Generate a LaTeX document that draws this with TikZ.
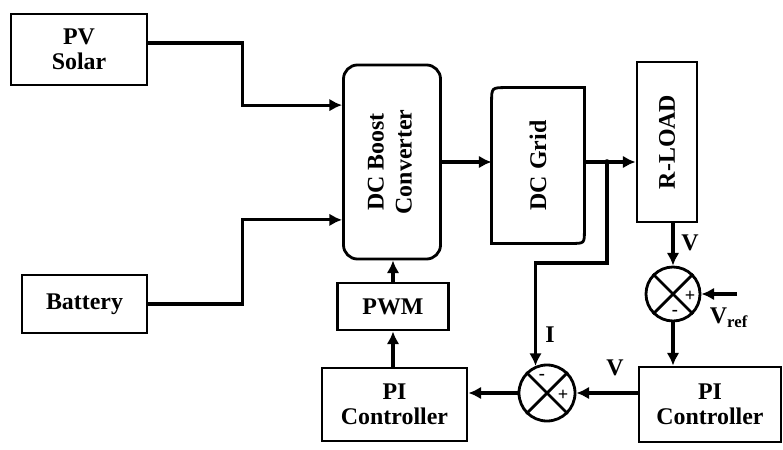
\documentclass[tikz,border=0pt]{standalone}
\usepackage{fontspec}
\usepackage{graphicx}
\setmainfont{Liberation Serif}
\usetikzlibrary{arrows.meta, calc, positioning}
\tikzset{
  block/.style={draw, line width=2pt, rectangle, inner sep=0pt, align=center, font=\bfseries\fontsize{17}{20}\selectfont},
  roundblock/.style={block, rounded corners=10pt},
  sumnode/.style={draw, circle, line width=2pt, inner sep=0pt, minimum size=1.35cm},
  flow/.style={line width=2.2pt, -{Latex[length=9pt,width=9pt]}},
  wire/.style={line width=2pt},
  sign/.style={font=\bfseries\fontsize{13}{13}\selectfont, inner sep=0pt},
  tag/.style={font=\bfseries\fontsize{17}{20}\selectfont, inner sep=1pt}
}

\begin{document}
\begin{tikzpicture}[x=0.025cm, y=-0.025cm]
\useasboundingbox (0,0) rectangle (783,449);

% Sources
\node[block, minimum width=3.4cm, minimum height=1.775cm] (pv) at (79,49.5) {PV\\[-2pt]Solar};
\node[block, minimum width=3.125cm, minimum height=1.45cm] (bat) at (84.5,304) {Battery};

% Converter, grid and load
\node[roundblock, minimum width=2.425cm, minimum height=4.85cm] (boost) at (392,162)
  {\rotatebox{90}{\begin{tabular}{@{}c@{}}DC Boost\\Converter\end{tabular}}};
\node[block, draw=none, minimum width=2.25cm, minimum height=3.825cm] (grid) at (538,165.5)
  {\rotatebox{90}{DC Grid}};
\draw[wire] (grid.south west) -- ($(grid.north west)+(0,15)$)
  .. controls (grid.north west) .. ($(grid.north west)+(15,0)$) -- (grid.north east)
  -- ($(grid.south east)+(0,-13)$) .. controls (grid.south east) .. ($(grid.south east)+(-13,0)$) -- cycle;
\node[block, minimum width=1.5cm, minimum height=4cm] (load) at (667,142) {\rotatebox{90}{R-LOAD}};

% Control loop
\node[block, minimum width=2.775cm, minimum height=1.175cm] (pwm) at (393,306.5) {PWM};
\node[block, minimum width=3.625cm, minimum height=1.825cm] (piL) at (394.5,404.5) {PI\\[-2pt]Controller};
\node[block, minimum width=3.55cm, minimum height=1.875cm] (piR) at (710,404.5) {PI\\[-2pt]Controller};

% Summing junctions
\node[sumnode] (sum1) at (673,294) {};
\draw[wire] (sum1.north west) -- (sum1.south east) (sum1.north east) -- (sum1.south west);
\node[sign] (s1p) at ($(sum1)+(17,2)$) {+};
\node[sign] (s1m) at ($(sum1)+(2,19)$) {-};
\node[sumnode, minimum size=1.4cm] (sum2) at (547,393) {};
\draw[wire] (sum2.north west) -- (sum2.south east) (sum2.north east) -- (sum2.south west);
\node[sign] (s2m) at ($(sum2)+(-5,-16)$) {-};
\node[sign] (s2p) at ($(sum2)+(16,2)$) {+};

% Signal labels
\node[tag] (lv1) at (690,243) {V};
\node[tag] (lvref) at (729,318) {V\textsubscript{ref}};
\node[tag] (li) at (550,335) {I};
\node[tag] (lv2) at (615,368) {V};

% Connections
\coordinate (inpv) at ($(boost.north west)!0.211!(boost.south west)$);
\coordinate (inbat) at ($(boost.north west)!0.794!(boost.south west)$);
\coordinate (jn) at (607,162);
\coordinate (vr) at (737,294);
\draw[flow] ([yshift=4.6pt]pv.east) -- ++(94,0) |- (inpv);
\draw[flow] (bat.east) -- ++(94,0) |- (inbat);
\draw[flow] (boost.east) -- (boost.east -| grid.west);
\draw[flow] (boost.east -| grid.east) -- (boost.east -| load.west);
\fill (jn) circle (2pt);
\draw[flow] (jn) -- ++(0,101) -| (sum2.113);
\draw[flow] (sum1.north |- load.south) -- (sum1.north);
\draw[flow] (vr) -- (sum1.east);
\draw[flow] (sum1.south) -- (sum1.south |- piR.north);
\draw[flow] (piR.west |- sum2.east) -- (sum2.east);
\draw[flow] (sum2.west) -- (sum2.west -| piL.east);
\draw[flow] (pwm.south |- piL.north) -- (pwm.south);
\draw[flow] (pwm.north) -- (pwm.north |- boost.south);
\end{tikzpicture}
\end{document}
